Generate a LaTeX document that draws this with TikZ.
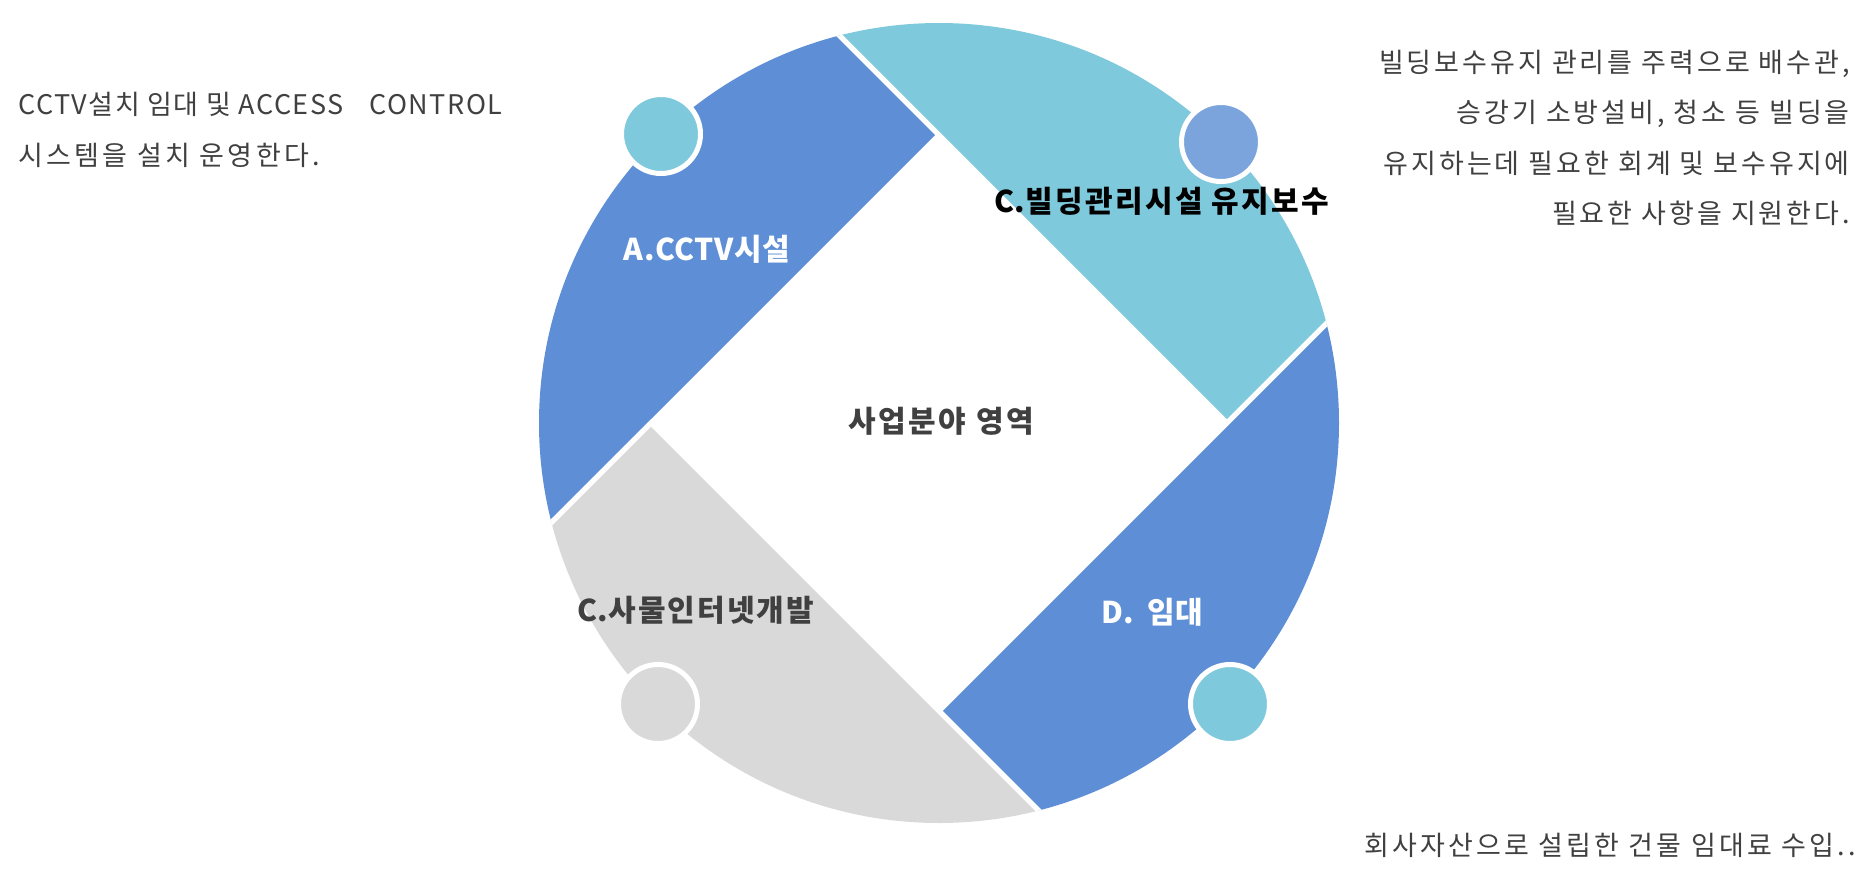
\documentclass[tikz,border=0pt]{standalone}
\usepackage{fontspec}
\usepackage{xcolor}
\setmainfont{Noto Sans CJK KR}
\definecolor{ringblue}{RGB}{94,142,213}
\definecolor{ringcyan}{RGB}{127,201,220}
\definecolor{ringgray}{RGB}{217,217,217}
\definecolor{dotblue}{RGB}{123,163,220}
\definecolor{textgray}{RGB}{64,64,64}
\newcommand{\spaced}[1]{\addfontfeature{LetterSpace=#1}}

\begin{document}
\begin{tikzpicture}[x=1pt,y=-1pt,
    wedge/.style={draw=white,line width=5pt},
    dot/.style={circle,draw=white,line width=5pt,minimum size=79pt,inner sep=0pt},
    segtext/.style={inner sep=0pt,font=\bfseries\fontsize{30}{36}\selectfont},
    bodytext/.style={inner sep=0pt,text=textgray,font=\fontsize{27}{50.5}\selectfont}]
    \useasboundingbox (0,0) rectangle (1875,887);

    % Diamond corners
    \coordinate (top) at (939,135);
    \coordinate (right) at (1227,423);
    \coordinate (bottom) at (939,711);
    \coordinate (left) at (651,423);

    % Ring segments
    \begin{scope}
        \clip (939,423) circle [radius=400pt];
        \filldraw[wedge,fill=ringblue] (top) -- ++(-800,-800) -- ++(0,1600) -- cycle;
        \filldraw[wedge,fill=ringcyan] (right) -- ++(-800,-800) -- ++(1600,0) -- cycle;
        \filldraw[wedge,fill=ringblue] (bottom) -- ++(800,-800) -- ++(0,1600) -- cycle;
        \filldraw[wedge,fill=ringgray] (left) -- ++(-800,800) -- ++(1600,0) -- cycle;
    \end{scope}

    % Small dots
    \node[dot,fill=ringcyan] (dotA) at (661,134) {};
    \node[dot,fill=dotblue] (dotC) at (1221,142) {};
    \node[dot,fill=ringgray] (dotI) at (658,704) {};
    \node[dot,fill=ringcyan] (dotD) at (1230,704) {};

    % Segment labels
    \node[segtext,text=white] (labA) at (707,249) {\spaced{2}A.CCTV시설};
    \node[segtext,text=black] (labC) at (1162,201) {C.{\spaced{8}빌딩관리시설 유지보수}};
    \node[segtext,text=textgray] (labI) at (696,610) {C.{\spaced{7}사물인터넷개발}};
    \node[segtext,text=white] (labD) at (1152,612) {D.\ \ 임대};
    \node[segtext,text=textgray] (core) at (941,421) {\spaced{9}사업분야 영역};

    % Descriptions
    \node[bodytext,anchor=west,align=left] (descA) at (18,130)
        {{\spaced{5.5}CCTV설치 임대 및 ACCESS\hspace{26pt}CONTROL}\\{\spaced{12.5}시스템을 설치 운영한다.}};
    \node[bodytext,anchor=east,align=right,font=\fontsize{27}{50.5}\selectfont\spaced{11}] (descC) at (1850,138)
        {빌딩보수유지 관리를 주력으로 배수관,\\승강기 소방설비, 청소 등 빌딩을\\유지하는데 필요한 회계 및 보수유지에\\필요한 사항을 지원한다.};
    \node[bodytext,anchor=east] (descD) at (1856,845)
        {\spaced{12}회사자산으로 설립한 건물 임대료 수입..};
\end{tikzpicture}
\end{document}
